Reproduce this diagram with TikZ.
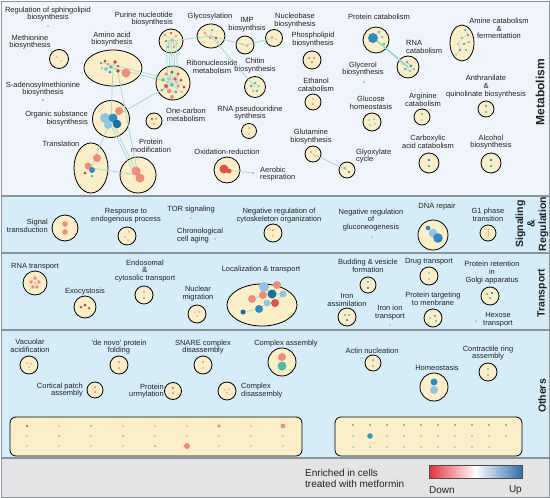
\documentclass[tikz,border=0pt]{standalone}
\usepackage{fontspec}
\setmainfont{Liberation Sans}
\usetikzlibrary{shapes.geometric}
\definecolor{cream}{HTML}{FBEFC8}
\definecolor{metbg}{HTML}{EFF5FA}
\definecolor{panbg}{HTML}{D4EDF8}
\definecolor{legbg}{HTML}{E4E4E7}
\definecolor{sepc}{HTML}{8C949B}
\definecolor{edgec}{HTML}{9ED9CB}
\definecolor{txt}{HTML}{222222}
\definecolor{dred}{HTML}{C33A3A}
\definecolor{red1}{HTML}{E0534C}
\definecolor{sal}{HTML}{F08C78}
\definecolor{lsal}{HTML}{F2B09E}
\definecolor{teal1}{HTML}{4FB8A8}
\definecolor{lteal}{HTML}{96D3C8}
\definecolor{blu}{HTML}{2E8CC4}
\definecolor{dblu}{HTML}{1670A8}
\definecolor{lblu}{HTML}{8CC6E4}
\definecolor{gdot}{HTML}{A3AE9C}
\definecolor{barred}{HTML}{E8303A}
\definecolor{barblue}{HTML}{2D6FB0}
\newcommand{\lf}{\fontsize{7.5}{7.7}\selectfont}
\newcommand{\vf}{\fontsize{10.5}{11.5}\selectfont\bfseries}
\newcommand{\mydot}[4]{\fill[#1] (#2,#3) circle (#4pt);}
\begin{document}
\begin{tikzpicture}[x=1pt,y=-1pt,
  cn/.style={circle, draw=black, line width=0.8pt, fill=cream, inner sep=0pt, minimum size=#1},
  en/.style 2 args={ellipse, draw=black, line width=0.8pt, fill=cream, inner sep=0pt, minimum width=#1, minimum height=#2},
  dn/.style={circle, fill=#1, inner sep=0pt, minimum size=2.4pt},
  lb/.style={font=\lf, align=center, inner sep=0pt, text=txt},
  edg/.style={draw=edgec, line width=0.7pt},
  idg/.style={draw=lteal, line width=0.4pt},
  vl/.style={font=\vf, rotate=90, align=center, inner sep=0pt, text=txt},
  box/.style={draw=black, line width=0.8pt, fill=cream, rounded corners=6pt}]
\useasboundingbox (0,0) rectangle (550,498);
% panels
\fill[metbg] (1,1) rectangle (549,196);
\fill[panbg] (1,196) rectangle (549,458);
\fill[legbg] (1,458) rectangle (549,497);
\draw[sepc, line width=1.5pt] (1,196) -- (549,196);
\draw[sepc, line width=1.5pt] (1,253) -- (549,253);
\draw[sepc, line width=1.5pt] (1,330) -- (549,330);
\draw[sepc, line width=1.5pt] (1,458) -- (549,458);
\draw[sepc, line width=1pt] (1,1) rectangle (549,497);

% ---------------- Metabolism ----------------
\node[lb] (tsph) at (48,14) {Regulation of sphingolipid\\biosynthesis};
\node[dn=lsal] (sph) at (48,26) {};
\node[lb] (tmeth) at (30,42) {Methionine\\biosynthesis};
\node[cn=19pt] (meth) at (59,59) {};
\node[lb] (tamino) at (112,39) {Amino acid\\biosynthesis};
\node[en={58pt}{36pt}] (amino) at (113,68) {};
\node[lb] (tsad) at (43,89) {S-adenosylmethionine\\biosynthesis};
\node[dn=gdot] (sad) at (43,100) {};
\node[lb, align=right, anchor=east] (torg) at (88,118.5) {Organic substance\\biosynthesis};
\node[cn=37pt] (org) at (111,119) {};
\node[lb] (ttrans) at (61,144) {Translation};
\node[en={34pt}{50pt}] (trans) at (91,168) {};
\node[lb] (tpm) at (151,146) {Protein\\modification};
\node[cn=36pt] (pm) at (138,175) {};
\node[lb, align=right, anchor=east] (tpur) at (173,19) {Purine nucleotide\\biosynthesis};
\node[cn=24pt] (pur) at (171,41) {};
\node[lb] (tgly) at (210,17) {Glycosylation};
\node[en={28pt}{24pt}] (gly) at (211,36) {};
\node[lb] (timp) at (247,25) {IMP\\biosynthsis};
\node[cn=18pt] (imp) at (245,45) {};
\node[lb] (tnuc) at (295,20.5) {Nucleobase\\biosynthesis};
\node[cn=17pt] (nuc) at (274,38) {};
\node[lb] (tribo) at (212,67) {Ribonucleoside\\metabolism};
\node[cn=34pt] (ribo) at (173,83) {};
\node[lb] (tchi) at (255,65.5) {Chitin\\biosynthesis};
\node[cn=21pt] (chi) at (255,87) {};
\node[lb] (tpho) at (313,39.5) {Phospholipid\\biosynthesis};
\node[cn=18pt] (pho) at (312,60) {};
\node[lb] (teth) at (316,84.5) {Ethanol\\catabolism};
\node[cn=16pt] (eth) at (313,102) {};
\node[lb] (tone) at (186,114.5) {One-carbon\\metabolism};
\node[cn=16pt] (one) at (154,121) {};
\node[lb] (trps) at (250,113) {RNA pseudouridine\\synthesis};
\node[cn=15pt] (rps) at (249,131) {};
\node[lb] (tglu) at (311,136.5) {Glutamine\\biosynthesis};
\node[cn=16pt] (glu) at (313,154) {};
\node[lb, align=left, anchor=west] (tglx) at (356,156) {Glyoxylate\\cycle};
\node[cn=16pt] (glx) at (347,170) {};
\node[lb] (toxi) at (227,152) {Oxidation-reduction};
\node[cn=26pt] (oxi) at (227,170) {};
\node[lb, align=left, anchor=west] (taer) at (260,174) {Aerobic\\respiration};
\node[dn=sal] (aer) at (253,173) {};
\node[lb] (tpc) at (379,17) {Protein catabolism};
\node[cn=26pt] (pc) at (376,40) {};
\node[lb, align=left, anchor=west] (trc) at (406,47) {RNA\\catabolism};
\node[cn=22pt] (rc) at (408,67) {};
\node[lb] (tgcl) at (363,69) {Glycerol\\biosynthesis};
\node[dn=lblu] (gcl) at (364,82) {};
\node[lb] (tgluc) at (371,103) {Glucose\\homeostasis};
\node[cn=18pt] (gluc) at (372,122) {};
\node[lb] (targ) at (423,99.5) {Arginine\\catabolism};
\node[cn=16pt] (arg) at (422,117) {};
\node[lb] (tcar) at (428,142) {Carboxylic\\acid catabolism};
\node[cn=20pt] (car) at (429,163) {};
\node[lb] (talc) at (491,142) {Alcohol\\biosynthesis};
\node[cn=20pt] (alc) at (491,163) {};
\node[lb] (tami) at (499,28.5) {Amine catabolism\\\&\\fermentattion};
\node[en={24pt}{36pt}] (ami) at (462,43) {};
\node[lb] (tant) at (486,86.5) {Anthranilate\\\&\\quinolinate biosynthesis};
\node[cn=16pt] (ant) at (486,109) {};
\node[vl] (vmet) at (540,92) {\fontsize{12}{13}\selectfont Metabolism};

% network edges
\foreach \s in {-5,-2.5,0,2.5,5}{
  \draw[edg] ([xshift=\s pt]pur.center) -- ([xshift=\s pt]ribo.center);}
\draw[edg] (pur.center) -- (gly.center);
\draw[edg] (gly.center) -- (imp.center);
\draw[edg] (imp.center) -- (nuc.center);
\draw[edg] (gly.center) -- (chi.center);
\draw[edg] (amino.center) -- (ribo.center);
\draw[edg] ([yshift=3pt]amino.center) -- ([yshift=3pt]ribo.center);
\draw[edg] (amino.center) -- (org.center);
\draw[edg] ([xshift=4pt]amino.center) -- (pm.center);
\draw[edg] (ribo.center) -- (org.center);
\draw[edg] (org.center) -- (trans.center);
\draw[edg] (org.center) -- (pm.center);
\draw[edg] ([xshift=-3pt]org.center) -- ([xshift=-3pt]pm.center);
\draw[edg] (trans.center) -- (pm.center);
\draw[edg] (pc.center) -- (rc.center);
\draw[edg] (glu.center) -- (glx.center);
\draw[edg] (oxi.center) -- (aer.center);

% inner dots metabolism
\mydot{lsal}{57}{57}{1}\mydot{lteal}{61}{61}{1}
\draw[idg] (101,63)--(108,64)--(111,67)--(115,62) (106,69)--(111,67)--(118,71);
\mydot{teal1}{101}{63}{1.5}\mydot{dred}{105}{61}{1.5}\mydot{sal}{108}{64}{1.5}
\mydot{lblu}{106}{69}{2}\mydot{teal1}{111}{67}{1.8}\mydot{lteal}{102}{68}{1.5}
\mydot{dred}{115}{62}{1.8}\mydot{red1}{118}{66}{1.5}\mydot{dred}{118}{71}{1.8}
\mydot{blu}{110}{72}{1.5}\mydot{sal}{126}{73}{4.5}
\mydot{sal}{119}{111}{4}\mydot{lblu}{105}{118}{5}\mydot{lblu}{108}{125}{4}
\mydot{blu}{113}{118}{4.5}\mydot{dblu}{117}{124}{4.3}
\mydot{sal}{97}{158}{4}\mydot{sal}{88}{166}{3.5}\mydot{blu}{92}{170}{3}
\mydot{dred}{85}{173}{1.5}\mydot{teal1}{92}{176}{1.5}
\mydot{sal}{136}{171}{4.5}\mydot{sal}{140}{178}{4.5}
\draw[idg] (165,35)--(172,40)--(176,36) (166,41)--(172,40)--(168,47)--(174,47)--(177,43);
\mydot{sal}{165}{35}{1.3}\mydot{dred}{171}{33}{1.2}\mydot{sal}{176}{36}{1.2}
\mydot{teal1}{166}{41}{1.3}\mydot{sal}{172}{40}{1.3}\mydot{lteal}{177}{43}{1.2}
\mydot{teal1}{168}{47}{1.2}\mydot{sal}{174}{47}{1.2}
\draw[idg] (166,74)--(175,79)--(184,87) (163,80)--(172,85)--(182,92) (172,72)--(169,79)--(166,86)--(169,91)--(176,92) (178,74)--(175,79)--(178,86)--(172,97) (162,90)--(172,85)--(181,80);
\mydot{sal}{166}{74}{1.8}\mydot{dred}{172}{72}{1.5}\mydot{red1}{178}{74}{1.6}
\mydot{teal1}{163}{80}{1.8}\mydot{lteal}{169}{79}{1.6}\mydot{red1}{175}{79}{1.8}
\mydot{dred}{181}{80}{1.5}\mydot{red1}{166}{86}{2}\mydot{teal1}{172}{85}{1.8}
\mydot{sal}{178}{86}{1.8}\mydot{dred}{184}{87}{1.5}\mydot{teal1}{162}{90}{1.5}
\mydot{sal}{169}{91}{2.2}\mydot{teal1}{176}{92}{1.6}\mydot{lteal}{182}{92}{1.4}
\mydot{sal}{172}{97}{2}
\draw[idg] (205,33)--(210,38)--(216,38)--(218,42) (212,30)--(210,38);
\mydot{sal}{205}{33}{1.5}\mydot{teal1}{212}{30}{1.2}\mydot{sal}{210}{38}{1.3}
\mydot{dred}{216}{38}{1.3}\mydot{lsal}{218}{42}{1.2}
\mydot{lsal}{242}{44}{1.2}\mydot{sal}{247}{46}{1.2}
\mydot{sal}{272}{37}{1.2}\mydot{lsal}{276}{39}{1}
\draw[idg] (255,83)--(259,86)--(257,91)--(253,91)--(251,86)--cycle;
\mydot{teal1}{255}{83}{1.3}\mydot{lteal}{259}{86}{1.3}\mydot{teal1}{257}{91}{1.3}
\mydot{lteal}{253}{91}{1.3}\mydot{teal1}{251}{86}{1.3}
\mydot{sal}{309}{58}{1.3}\mydot{sal}{314}{58}{1.3}\mydot{sal}{312}{62}{1.3}
\mydot{lsal}{313}{99}{1.2}\mydot{sal}{313}{104}{1.2}
\mydot{dred}{152}{119}{1.2}\mydot{sal}{156}{119}{1.2}\mydot{sal}{154}{124}{1.2}
\mydot{lsal}{249}{128}{1.2}\mydot{lsal}{249}{134}{1.2}
\mydot{sal}{311}{152}{1.2}\mydot{lteal}{315}{156}{1}
\mydot{teal1}{345}{168}{1.2}\mydot{dblu}{349}{172}{1.2}
\mydot{red1}{224}{169}{4.5}\mydot{red1}{229}{171}{2.5}
\draw[lteal, line width=1.5pt] (pc.center) -- (rc.center);
\mydot{blu}{373}{38}{5}\mydot{lblu}{379}{32}{1.8}\mydot{lblu}{382}{37}{1.5}\mydot{teal1}{384}{44}{1.3}
\draw[idg] (403,64)--(407,62)--(411,66)--(405,69)--(410,71)--(414,69);
\mydot{lteal}{403}{64}{1.3}\mydot{teal1}{407}{62}{1.3}\mydot{blu}{411}{66}{1.4}
\mydot{teal1}{405}{69}{1.3}\mydot{lblu}{410}{71}{1.3}\mydot{teal1}{414}{69}{1.2}
\draw[idg] (465,30)--(468,35)--(462,38)--(458,44)--(464,44)--(469,42) (458,44)--(460,50)--(456,55) (460,50)--(466,50);
\mydot{teal1}{465}{30}{1.2}\mydot{blu}{468}{35}{1.2}\mydot{teal1}{462}{38}{1.2}
\mydot{lteal}{458}{44}{1.2}\mydot{blu}{464}{44}{1.2}\mydot{teal1}{469}{42}{1.2}
\mydot{blu}{460}{50}{1.2}\mydot{lteal}{456}{55}{1.2}\mydot{teal1}{466}{50}{1.2}
\mydot{lteal}{369}{120}{1.2}\mydot{lteal}{374}{119}{1.2}\mydot{lteal}{375}{124}{1.2}\mydot{lteal}{370}{125}{1.2}
\mydot{teal1}{422}{114}{1.2}\mydot{lteal}{422}{120}{1.2}
\mydot{blu}{429}{160}{1.4}\mydot{teal1}{429}{166}{1.4}
\mydot{blu}{491}{160}{1.4}\mydot{teal1}{491}{166}{1.4}
\mydot{blu}{486}{106}{1.2}\mydot{teal1}{486}{112}{1.2}

% ---------------- Signaling ----------------
\node[lb, align=right, anchor=east] (tsig) at (48,225.5) {Signal\\transduction};
\node[cn=26pt] (sig) at (65,228) {};
\node[lb] (tresp) at (126,215.5) {Response to\\endogenous process};
\node[cn=18pt] (resp) at (127,236) {};
\node[lb] (ttor) at (191,210) {TOR signaling};
\node[dn=lsal] (tor) at (191,218) {};
\node[lb, align=left, anchor=west] (tchr) at (177,235.5) {Chronological\\cell aging};
\node[dn=lsal] (chr) at (215,239) {};
\node[lb] (tncy) at (279,215.5) {Negative regulation of\\cytoskeleton organization};
\node[cn=18pt] (ncy) at (273,233) {};
\node[lb] (tngl) at (371,220) {Negative regulation\\of\\gluconeogenesis};
\node[dn=lteal] (ngl) at (372,237) {};
\node[lb] (tdna) at (437,207) {DNA repair};
\node[cn=30pt] (dna) at (433,235) {};
\node[lb] (tg1) at (488,214.5) {G1 phase\\transition};
\node[cn=16pt] (g1) at (488,233) {};
\node[vl] (vsig) at (532,224) {Signaling\\\&\\Regulation};
\mydot{sal}{65}{224}{2.8}\mydot{sal}{65}{232}{2.8}
\mydot{lsal}{129}{232}{1.2}\mydot{lsal}{125}{237}{1.2}\mydot{lsal}{128}{240}{1.2}
\mydot{sal}{273}{230}{1.2}\mydot{lsal}{273}{236}{1.2}
\mydot{blu}{428}{228}{2.3}\mydot{lblu}{433}{233}{4.3}\mydot{blu}{438}{238}{4.8}
\draw[lsal, line width=0.5pt] (488,230)--(488,236);
\mydot{lsal}{488}{230}{1}\mydot{lsal}{488}{236}{1}

% ---------------- Transport ----------------
\node[lb] (trnat) at (35,267) {RNA transport};
\node[cn=24pt] (rnat) at (35,283) {};
\node[lb] (texo) at (85,292) {Exocystosis};
\node[cn=22pt] (exo) at (85,307) {};
\node[lb] (tendo) at (145,271) {Endosomal\\\&\\cytosolic transport};
\node[cn=18pt] (endo) at (144,295) {};
\node[lb] (tnm) at (198,293.5) {Nuclear\\migration};
\node[cn=18pt] (nm) at (197,314) {};
\node[lb] (tloc) at (261,270) {Localization \& transport};
\node[en={70pt}{42pt}] (loc) at (262,305) {};
\node[lb] (tbud) at (368,266) {Budding \& vesicle\\formation};
\node[cn=16pt] (bud) at (368,285) {};
\node[lb] (tdrug) at (429,262) {Drug transport};
\node[cn=18pt] (drug) at (429,276) {};
\node[lb] (tgol) at (492,272.5) {Protein retention\\in\\Golgi apparatus};
\node[cn=18pt] (gol) at (490,296) {};
\node[lb] (tira) at (347,300) {Iron\\assimilation};
\node[cn=18pt] (ira) at (347,317) {};
\node[lb] (tiri) at (390,312.5) {Iron ion\\transport};
\node[dn=lteal] (iri) at (390,325) {};
\node[lb] (tptm) at (433,298.5) {Protein targeting\\to menbrane};
\node[cn=18pt] (ptm) at (433,318) {};
\node[lb] (thex) at (498,319.5) {Hexose\\transport};
\node[dn=lteal] (hex) at (476,321) {};
\node[vl] (vtra) at (542,293) {Transport};
\draw[lsal, line width=0.4pt] (35,278)--(39,282)--(37,287)--(33,287)--(31,282)--cycle;
\mydot{sal}{35}{278}{1.8}\mydot{sal}{39}{282}{1.8}\mydot{sal}{37}{287}{1.8}
\mydot{sal}{33}{287}{1.8}\mydot{sal}{31}{282}{1.8}\mydot{lsal}{35}{283}{1.5}
\mydot{red1}{81}{307}{1.5}\mydot{dred}{85}{305}{1.5}\mydot{red1}{89}{308}{1.5}
\mydot{sal}{144}{292}{1.2}\mydot{teal1}{144}{298}{1.2}
\mydot{lsal}{195}{312}{1.2}\mydot{lsal}{199}{312}{1.2}\mydot{lsal}{197}{316}{1.2}
\draw[idg, line width=0.6pt] (243,312)--(259,309)--(267,303)--(275,303)--(283,294)--(272,294)--(263,295)--(252,299) (264,287)--(272,294) (277,285)--(272,294);
\mydot{lblu}{264}{287}{5}\mydot{sal}{277}{285}{4}\mydot{sal}{252}{299}{4}
\mydot{sal}{263}{295}{4}\mydot{dblu}{272}{294}{4.5}\mydot{lblu}{283}{294}{3.5}
\mydot{lblu}{267}{303}{3.5}\mydot{red1}{275}{303}{4}\mydot{blu}{259}{309}{4}
\mydot{dblu}{243}{312}{2.5}
\mydot{teal1}{368}{282}{1.2}\mydot{dblu}{368}{288}{1.2}
\mydot{lblu}{429}{273}{1.2}\mydot{lblu}{429}{279}{1.2}
\mydot{teal1}{487}{294}{1.2}\mydot{dblu}{492}{293}{1.2}\mydot{teal1}{490}{298}{1.2}
\mydot{teal1}{345}{315}{1.2}\mydot{teal1}{349}{315}{1.2}\mydot{dblu}{347}{320}{1.2}
\mydot{lblu}{430}{318}{1.2}\mydot{blu}{435}{316}{1.2}\mydot{teal1}{436}{321}{1.2}

% ---------------- Others ----------------
\node[lb] (tvac) at (30,345.5) {Vacuolar\\acidification};
\node[cn=18pt] (vac) at (29,365) {};
\node[lb] (tdn) at (119,347) {'de novo' protein\\folding};
\node[cn=18pt] (dn) at (119,365) {};
\node[lb] (tsn) at (203,347) {SNARE complex\\disassembly};
\node[cn=18pt] (sn) at (203,365) {};
\node[lb, align=right, anchor=east] (tcor) at (83,390) {Cortical patch\\assembly};
\node[cn=16pt] (cor) at (95,390) {};
\node[lb, align=right, anchor=east] (turm) at (164,391) {Protein\\urmylation};
\node[cn=17pt] (urm) at (173,391) {};
\node[lb, align=left, anchor=west] (tcd) at (241,390.5) {Complex\\disassembly};
\node[cn=18pt] (cd) at (227,391) {};
\node[lb] (tca) at (286,344) {Complex assembly};
\node[cn=28pt] (ca) at (282,362) {};
\node[lb] (tact) at (372,351) {Actin nucleation};
\node[cn=16pt] (act) at (373,363) {};
\node[lb] (tcon) at (488,353) {Contractile ring\\assembly};
\node[cn=18pt] (con) at (488,372) {};
\node[lb] (thom) at (437,368) {Homeostasis};
\node[cn=28pt] (hom) at (434,387) {};
\node[vl] (voth) at (542,396) {Others};
\mydot{lsal}{27}{363}{1.2}\mydot{lsal}{31}{364}{1.2}\mydot{lsal}{29}{367}{1.2}
\mydot{sal}{119}{362}{1.2}\mydot{sal}{119}{368}{1.2}
\mydot{sal}{203}{362}{1.2}\mydot{lsal}{203}{368}{1.2}
\mydot{sal}{95}{387}{1.2}\mydot{sal}{95}{392}{1.2}
\mydot{red1}{173}{388}{1.2}\mydot{sal}{173}{393}{1.2}
\mydot{lsal}{225}{390}{1.2}\mydot{lsal}{229}{389}{1.2}\mydot{lsal}{227}{393}{1.2}
\mydot{sal}{282}{357}{4}\mydot{teal1}{282}{366}{4.5}
\mydot{teal1}{373}{360}{1}\mydot{teal1}{373}{366}{1}
\mydot{teal1}{488}{369}{1}\mydot{teal1}{488}{375}{1}
\mydot{blu}{434}{382}{3.5}\mydot{lblu}{434}{390}{4}

% dot grids
\node[box, minimum width=292pt, minimum height=39pt, inner sep=0pt] (lbox) at (156,436.5) {};
\node[box, minimum width=187pt, minimum height=39pt, inner sep=0pt] (rbox) at (428.5,436.5) {};
\foreach \i/\ca/\cb/\cc in {0/dred/lsal/lsal,1/lsal/sal/lsal,2/gdot/lsal/lsal,3/lsal/sal/lsal,4/lsal/lsal/sal,5/lsal/lsal/sal,6/sal/lsal/lsal,7/lsal/lsal/lsal,8/sal/lsal/lsal}{
  \fill[\ca] (27+32*\i,426) circle (1.2pt);
  \fill[\cb] (27+32*\i,436) circle (1.2pt);
  \fill[\cc] (27+32*\i,446) circle (1.2pt);}
\fill[sal] (283,426) circle (2.4pt);
\fill[sal] (187,446) circle (3pt);
\fill[sal] (219,426) circle (1.8pt);
\foreach \i in {0,...,9}{
  \fill[teal1!80!gray] (353+17*\i,425) circle (1.1pt);
  \fill[lteal] (353+17*\i,436) circle (1.1pt);}
\foreach \i in {0,...,8}{
  \fill[lteal] (353+17*\i,447) circle (1.1pt);}
\fill[blu!70!teal1] (370,436) circle (2.8pt);

% legend
\node[font=\fontsize{10}{11}\selectfont, align=left, anchor=west, inner sep=0pt, text=txt] (leg) at (305,478.5) {Enriched in cells\\treated with metformin};
\shade[left color=barred, right color=barblue, middle color=white] (429,465) rectangle (522,478);
\draw[black!70, line width=0.4pt] (429,465) rectangle (522,478);
\node[font=\fontsize{10}{11}\selectfont, anchor=west, inner sep=0pt, text=txt] (down) at (429,490) {Down};
\node[font=\fontsize{10}{11}\selectfont, anchor=east, inner sep=0pt, text=txt] (up) at (522,490) {Up};
\end{tikzpicture}
\end{document}
